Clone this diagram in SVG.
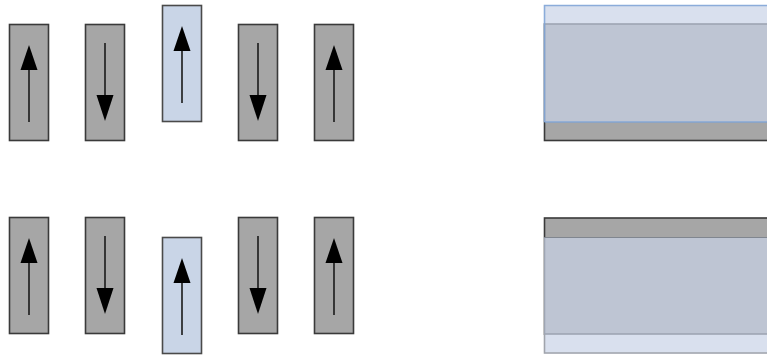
<svg xmlns="http://www.w3.org/2000/svg" width="767" height="356" viewBox="0 0 767 356">
<defs>
<style>
.g{fill:#a6a6a6;stroke:#3a3a3a;stroke-width:1.6}
.b{fill:#c9d5e7;stroke:#4a4a4a;stroke-width:1.6}
.ln{stroke:#1a1a1a;stroke-width:1.6;fill:none}
.hd{fill:#000}
.ov{fill:#c9d3e7;fill-opacity:0.7}
</style>
<g id="up"><line class="ln" x1="0" y1="98" x2="0" y2="40"/><polygon class="hd" points="0,21 -8.5,46 8.5,46"/></g>
<g id="down"><line class="ln" x1="0" y1="19" x2="0" y2="78"/><polygon class="hd" points="0,97 -8.5,71 8.5,71"/></g>
</defs>
<g id="top-row">
<g id="t1"><rect class="g" x="9.5" y="24.5" width="39" height="116"/><use href="#up" x="29" y="24"/></g>
<g id="t2"><rect class="g" x="85.5" y="24.5" width="39" height="116"/><use href="#down" x="105" y="24"/></g>
<g id="t3"><rect class="b" x="162.5" y="5.5" width="39" height="116"/><use href="#up" x="182" y="5"/></g>
<g id="t4"><rect class="g" x="238.5" y="24.5" width="39" height="116"/><use href="#down" x="258" y="24"/></g>
<g id="t5"><rect class="g" x="314.5" y="24.5" width="39" height="116"/><use href="#up" x="334" y="24"/></g>
</g>
<g id="bottom-row">
<g id="b1"><rect class="g" x="9.5" y="217.5" width="39" height="116"/><use href="#up" x="29" y="217"/></g>
<g id="b2"><rect class="g" x="85.5" y="217.5" width="39" height="116"/><use href="#down" x="105" y="217"/></g>
<g id="b3"><rect class="b" x="162.5" y="237.5" width="39" height="116"/><use href="#up" x="182" y="237"/></g>
<g id="b4"><rect class="g" x="238.5" y="217.5" width="39" height="116"/><use href="#down" x="258" y="217"/></g>
<g id="b5"><rect class="g" x="314.5" y="217.5" width="39" height="116"/><use href="#up" x="334" y="217"/></g>
</g>
<g id="layer-top">
<rect class="g" x="544.5" y="24" width="240" height="116.5"/>
<rect class="ov" x="544" y="5" width="240" height="117"/>
<path d="M544.5,122 V5.5 H768 M544.5,122 H768" fill="none" stroke="#7da2d6" stroke-width="1.6" stroke-opacity="0.85"/>
</g>
<g id="layer-bottom">
<rect class="g" x="544.5" y="218" width="240" height="116"/>
<rect class="ov" x="544" y="237.5" width="240" height="116"/>
<path d="M544.5,334 V353 H768" fill="none" stroke="#a0a4ac" stroke-width="1.6"/>
<line x1="544" y1="237.5" x2="768" y2="237.5" stroke="#80868f" stroke-width="1.2"/>
</g>
</svg>
